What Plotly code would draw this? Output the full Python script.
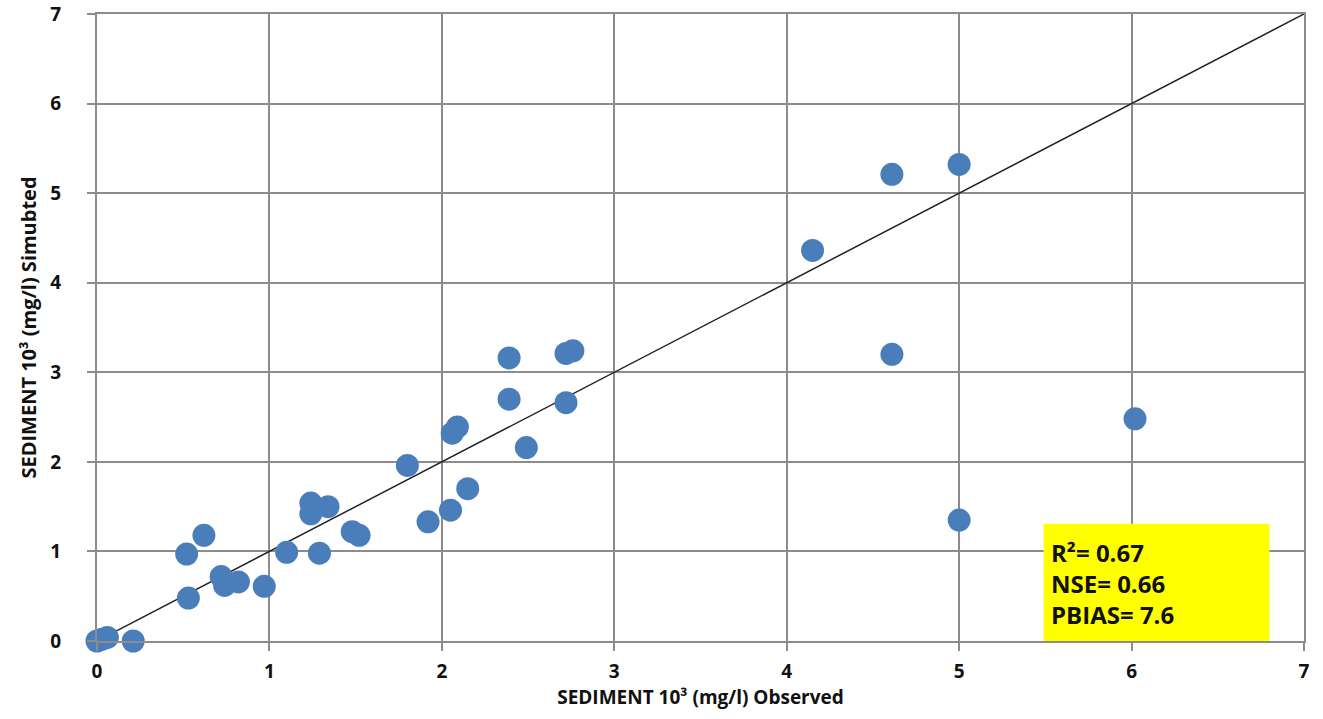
import plotly.graph_objects as go

observed = [0.0, 0.03, 0.06, 0.21, 0.53, 0.52, 0.62, 0.72, 0.74, 0.82, 0.97, 1.10, 1.29,
            1.24, 1.34, 1.24, 1.48, 1.52, 1.80, 1.92, 2.05, 2.15, 2.06, 2.09, 2.49, 2.39,
            2.39, 2.72, 2.72, 2.76, 4.15, 4.61, 5.00, 4.61, 5.00, 6.02]
simulated = [0.0, 0.02, 0.04, 0.0, 0.48, 0.97, 1.18, 0.72, 0.62, 0.66, 0.61, 0.99, 0.98,
             1.54, 1.50, 1.42, 1.22, 1.18, 1.96, 1.33, 1.46, 1.70, 2.32, 2.39, 2.16, 2.70,
             3.16, 2.66, 3.21, 3.24, 4.36, 5.21, 5.32, 3.20, 1.35, 2.48]
line_x = [0, 7]
line_y = [0, 7]
ticks = [0, 1, 2, 3, 4, 5, 6, 7]
stats_text = "R²= 0.67<br>NSE= 0.66<br>PBIAS= 7.6"

FONT = "Open Sans"
fig = go.Figure()
fig.add_trace(go.Scatter(x=line_x, y=line_y, mode="lines", cliponaxis=False,
                         line=dict(color="#222222", width=1.5), hoverinfo="skip"))
fig.add_trace(go.Scatter(x=observed, y=simulated, mode="markers", cliponaxis=False,
                         marker=dict(color="#4A7EBB", size=23, line=dict(width=0))))

fig.add_shape(type="rect", xref="x", yref="y", x0=5.49, x1=6.8, y0=0.0, y1=1.31,
              fillcolor="#FFFF00", line=dict(width=0), layer="above")
fig.add_annotation(xref="x", yref="y", x=5.52, y=0.64, text=stats_text, showarrow=False,
                   xanchor="left", yanchor="middle", align="left",
                   font=dict(family=FONT, size=24, color="#111111", weight="bold"))

axis_common = dict(range=[0, 7], tickvals=ticks, showgrid=True, gridcolor="#8C8C8C",
                   gridwidth=2, zeroline=False, showline=True, mirror=True,
                   linecolor="#8C8C8C", linewidth=2, ticks="outside",
                   ticklen=8, tickwidth=2, tickcolor="#8C8C8C", automargin=False,
                   ticklabeloverflow="allow",
                   tickfont=dict(family=FONT, size=19, color="#111111", weight="bold"))
fig.update_xaxes(**axis_common, ticklabelstandoff=4,
                 title=dict(text="SEDIMENT 10³ (mg/l) Observed", standoff=4,
                            font=dict(family=FONT, size=19, color="#111111", weight="bold")))
fig.update_yaxes(**axis_common, ticklabelstandoff=22,
                 title=dict(text="SEDIMENT 10³ (mg/l) Simubted", standoff=8,
                            font=dict(family=FONT, size=20, color="#111111", weight="bold")))
fig.update_layout(width=1323, height=719, showlegend=False,
                  plot_bgcolor="white", paper_bgcolor="white",
                  margin=dict(l=97, r=19, t=14, b=78))
fig.write_html("out.html", config={"displayModeBar": False},
               post_script="document.body.style.margin='0';document.body.style.overflow='hidden';")
